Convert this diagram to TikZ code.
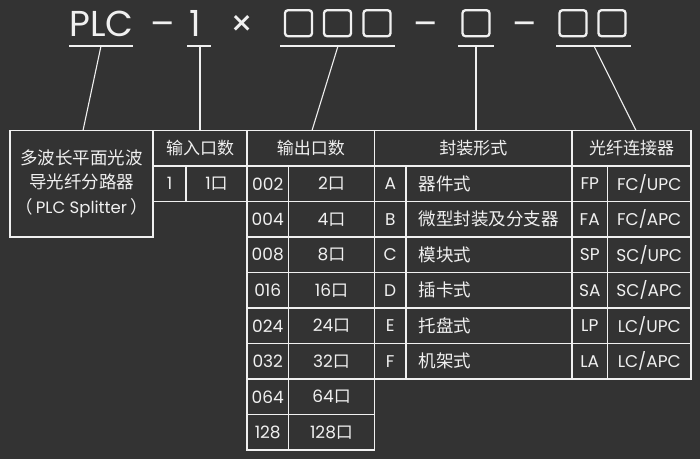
\documentclass[tikz,border=0pt]{standalone}
\usepackage{fontspec}
\setmainfont{Poppins}
\newfontfamily\cjk{Noto Sans CJK SC}
\definecolor{bg}{HTML}{333333}
\definecolor{fg}{HTML}{F0F0F0}
\newcommand\mycell[6]{%
  \node[cell, minimum width={(#4-#2)*1pt}, minimum height={(#5-#3)*1pt}] (#1) at ({(#2+#4)/2},{(#3+#5)/2}) {#6};}
\begin{document}
\begin{tikzpicture}[x=1pt,y=-1pt,
  cell/.style={draw=fg, line width=1.6pt, inner sep=0pt, text=fg, font=\fontsize{17}{19}\selectfont},
  pname/.style={cell, font=\cjk\fontsize{17.5}{20}\selectfont, text width=141pt, align=left, minimum width=166pt, minimum height=35.5pt},
  ttext/.style={text=fg, inner sep=0pt, anchor=base, font=\fontsize{36}{40}\selectfont},
  tbox/.style={draw=fg, line width=2.3pt, rounded corners=3pt, minimum width=27pt, minimum height=26pt, inner sep=0pt},
  uline/.style={draw=fg, line width=1.5pt},
  conn/.style={draw=fg, line width=1.1pt}]
\fill[bg] (0,0) rectangle (700,459);
\useasboundingbox (0,0) rectangle (700,459);
% title
\node[ttext] (plc) at (101.5,36) {PLC};
\node[ttext] (d1) at (162.5,36) {–};
\node[ttext] (one) at (195,36) {1};
\node[ttext] (x) at (242.5,36) {×};
\node[tbox] (b1) at (298.5,23.2) {};
\node[tbox] (b2) at (337.5,23.2) {};
\node[tbox] (b3) at (377,23.2) {};
\node[ttext] (d2) at (426,36) {–};
\node[tbox] (b4) at (476,23.2) {};
\node[ttext] (d3) at (525,36) {–};
\node[tbox] (b5) at (573,23.2) {};
\node[tbox] (b6) at (612,23.2) {};
% underlines
\coordinate (u1a) at (69,46); \coordinate (u1b) at (133,46);
\coordinate (u2a) at (187,46); \coordinate (u2b) at (211,46);
\coordinate (u3a) at (280,46); \coordinate (u3b) at (395,46);
\coordinate (u4a) at (458,46); \coordinate (u4b) at (494,46);
\coordinate (u5a) at (556,46); \coordinate (u5b) at (631,46);
\foreach \i in {1,...,5}{\draw[uline] (u\i a) -- (u\i b);}
% connector anchors
\coordinate (s1) at (101,46); \coordinate (e1) at (83,130.5);
\coordinate (s2) at (200,46); \coordinate (e2) at (200,130.5);
\coordinate (s3) at (338,46); \coordinate (e3) at (312,130.5);
\coordinate (s4) at (476,46); \coordinate (e4) at (476,130.5);
\coordinate (s5) at (594,46); \coordinate (e5) at (636,130.5);
\foreach \i in {1,...,5}{\draw[conn] (s\i) -- (e\i);}
% left box
\node[cell, minimum width=143pt, minimum height=106.5pt, align=center, font=\cjk\fontsize{17.5}{24.5}\selectfont] (lbox) at (81.5,183.75)
  {多波长平面光波\\导光纤分路器\\（\hspace{3pt}{\fontspec{Poppins}\fontsize{16.5}{19}\selectfont PLC Splitter}\hspace{3pt}）};
% headers
\mycell{hin}{153}{130.5}{247}{166}{\cjk 输入口数}
\mycell{hout}{247}{130.5}{374.5}{166}{\cjk 输出口数}
\mycell{hpk}{374.5}{130.5}{572}{166}{\cjk 封装形式}
\mycell{hcn}{572}{130.5}{691}{166}{\cjk 光纤连接器}
% input row
\mycell{in1}{153}{166}{186}{201.5}{1}
\mycell{in2}{186}{166}{247}{201.5}{1{\cjk 口}}
% output rows
\foreach \a/\b [count=\k] in {002/2,004/4,008/8,016/16,024/24,032/32,064/64,128/128}{
  \pgfmathsetmacro\ya{130.5+35.5*\k}
  \pgfmathsetmacro\yb{\ya+35.5}
  \mycell{oc\k}{247}{\ya}{288.5}{\yb}{\a}
  \mycell{on\k}{288.5}{\ya}{374.5}{\yb}{\b{\cjk 口}}
}
% package rows
\foreach \a/\b [count=\k] in {A/器件式,B/微型封装及分支器,C/模块式,D/插卡式,E/托盘式,F/机架式}{
  \pgfmathsetmacro\ya{130.5+35.5*\k}
  \pgfmathsetmacro\yb{\ya+35.5}
  \mycell{pl\k}{374.5}{\ya}{406}{\yb}{\a}
  \node[pname] (pn\k) at (489,{(\ya+\yb)/2}) {\b};
}
% connector rows
\foreach \a/\b/\c [count=\k] in {FP/FC/UPC,FA/FC/APC,SP/SC/UPC,SA/SC/APC,LP/LC/UPC,LA/LC/APC}{
  \pgfmathsetmacro\ya{130.5+35.5*\k}
  \pgfmathsetmacro\yb{\ya+35.5}
  \mycell{cc\k}{572}{\ya}{607.5}{\yb}{\a}
  \mycell{cn\k}{607.5}{\ya}{691}{\yb}{\b/\c}
}
\end{tikzpicture}
\end{document}
